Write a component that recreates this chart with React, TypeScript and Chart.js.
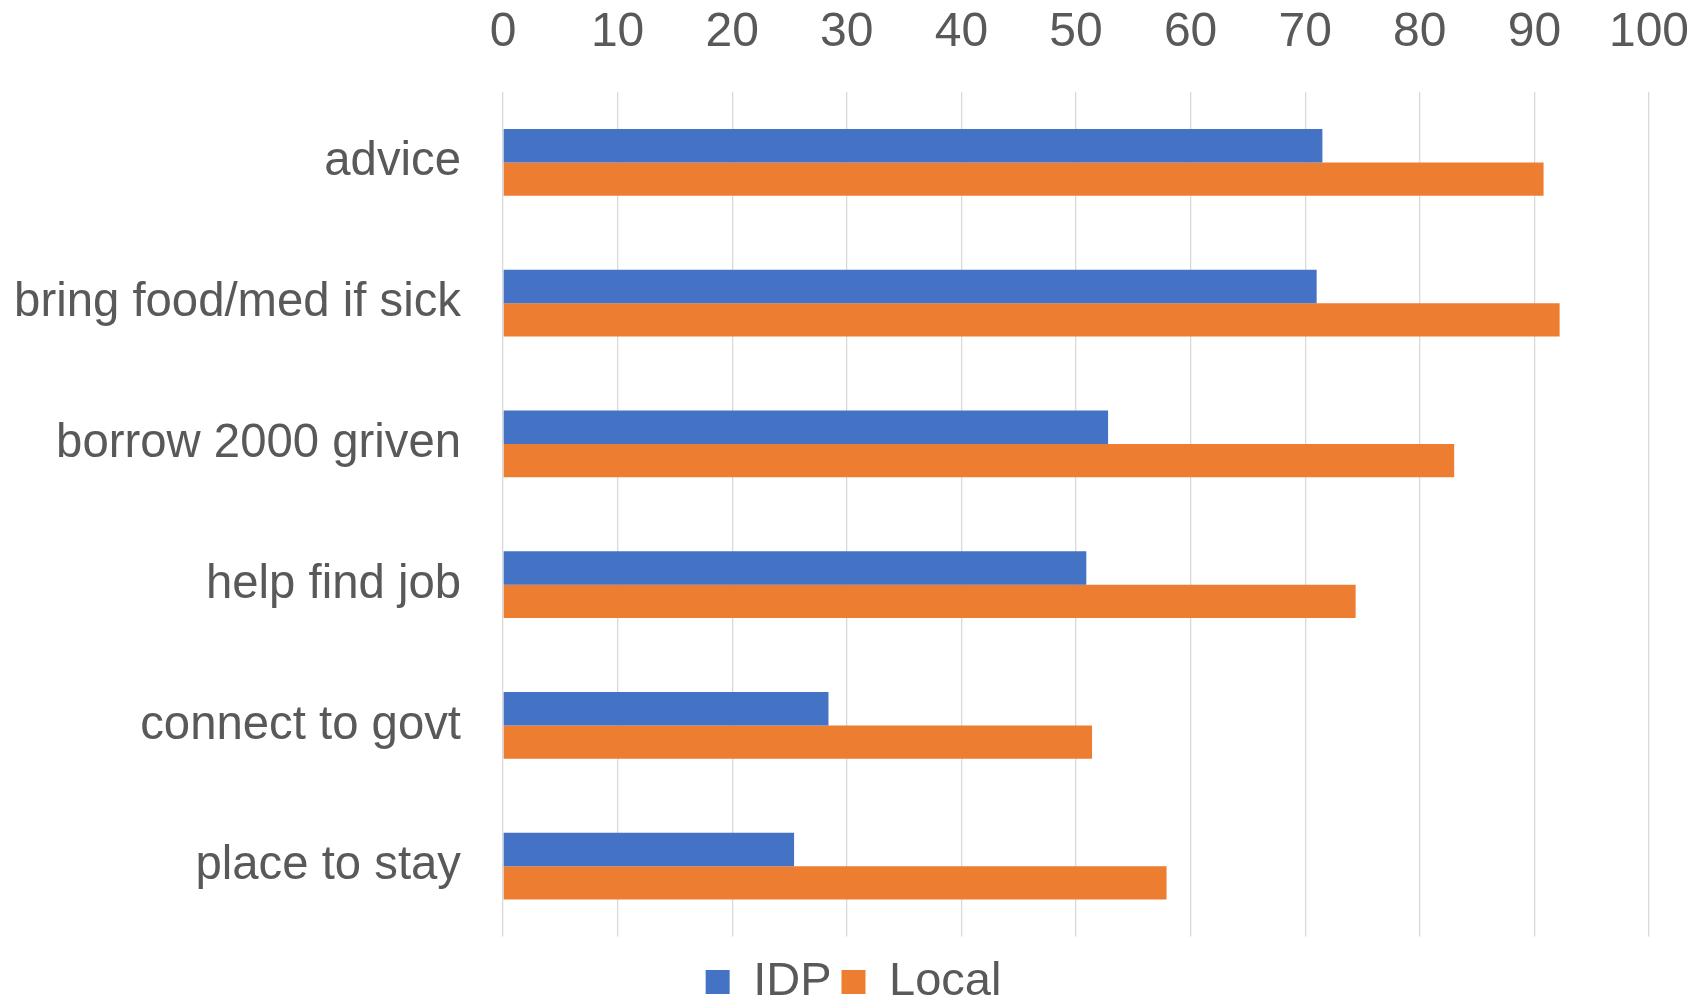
import React, { useEffect, useRef } from "react";
import { Chart, registerables } from "chart.js";

Chart.register(...registerables);

const categories = [
  "advice",
  "bring food/med if sick",
  "borrow 2000 griven",
  "help find job",
  "connect to govt",
  "place to stay",
];
const idpValues = [71.5, 71.0, 52.8, 50.9, 28.4, 25.4];
const localValues = [90.8, 92.2, 83.0, 74.4, 51.4, 57.9];
const seriesNames = ["IDP", "Local"];
const xTicks = [0, 10, 20, 30, 40, 50, 60, 70, 80, 90, 100];

const FONT = "'Liberation Sans', Arial, sans-serif";
const TEXT = "#595959";

const legendShift = {
  id: "legendShift",
  afterLayout(chart: any) {
    const lg = chart.legend;
    if (!lg) return;
    lg.left += 29;
    lg.right += 29;
    lg.top += 12;
    lg.bottom += 12;
  },
};

export default function App() {
  const ref = useRef<HTMLCanvasElement | null>(null);

  useEffect(() => {
    if (!ref.current) return;
    const chart = new Chart(ref.current, {
      type: "bar",
      data: {
        labels: categories,
        datasets: [
          {
            label: seriesNames[0],
            data: idpValues,
            backgroundColor: "#4472C4",
            borderWidth: 0,
            categoryPercentage: 0.474,
            barPercentage: 1.0,
          },
          {
            label: seriesNames[1],
            data: localValues,
            backgroundColor: "#ED7D31",
            borderWidth: 0,
            categoryPercentage: 0.474,
            barPercentage: 1.0,
          },
        ],
      },
      options: {
        indexAxis: "y",
        responsive: false,
        animation: false,
        devicePixelRatio: 1,
        layout: { padding: { left: 0, right: 54, top: 0, bottom: 0 } },
        scales: {
          x: {
            position: "top",
            min: 0,
            max: 100,
            afterBuildTicks: (scale: any) => {
              scale.ticks = xTicks.map((v) => ({ value: v }));
            },
            afterFit: (scale: any) => {
              scale.height = 92;
              scale.paddingLeft = 0;
              scale.paddingRight = 0;
            },
            border: { display: false },
            grid: { color: "#d9d9d9", lineWidth: 1.3, drawTicks: false },
            ticks: {
              padding: 30,
              color: TEXT,
              font: { family: FONT, size: 48 },
              maxRotation: 0,
            },
          },
          y: {
            afterFit: (scale: any) => {
              scale.width = 503;
            },
            border: { display: false },
            grid: { display: false, drawTicks: false },
            ticks: {
              padding: 42,
              color: TEXT,
              font: { family: FONT, size: 47.3 },
            },
          },
        },
        plugins: {
          legend: {
            display: true,
            position: "bottom",
            labels: {
              color: TEXT,
              font: { family: FONT, size: 47 },
              boxWidth: 24,
              boxHeight: 24,
              padding: 10,
            },
          },
          tooltip: { enabled: false },
        },
      },
      plugins: [legendShift],
    } as any);
    return () => chart.destroy();
  }, []);

  return (
    <div style={{ position: "fixed", left: 0, top: 0, width: 1703, height: 1007, background: "#fff" }}>
      <canvas ref={ref} width={1703} height={1007} style={{ width: 1703, height: 1007, display: "block" }} />
    </div>
  );
}
